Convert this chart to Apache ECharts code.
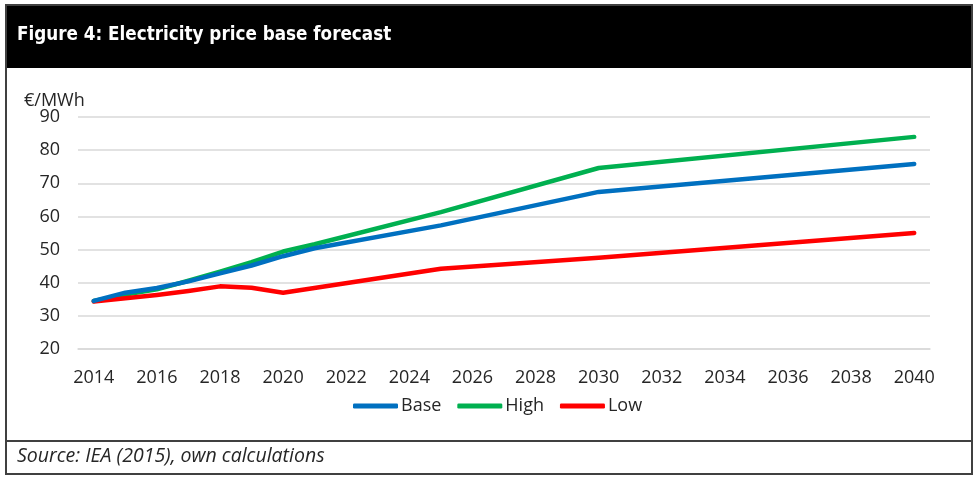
<!DOCTYPE html>
<html>
<head>
<meta charset="utf-8">
<script src="https://cdn.jsdelivr.net/npm/echarts@6/dist/echarts.min.js"></script>
<style>
html,body{margin:0;padding:0;background:#fff;}
#chart{width:979px;height:483px;}
</style>
</head>
<body>
<div id="chart"></div>
<script>
// Categories (years)
var years = ['2014','2015','2016','2017','2018','2019','2020','2021','2022','2023','2024','2025','2026','2027',
             '2028','2029','2030','2031','2032','2033','2034','2035','2036','2037','2038','2039','2040'];
// Series values (null = no data point; line connects neighbouring points)
var baseValues = [34.5, 37.0, 38.4, 40.4, 42.8, 45.2, 48.0, 50.4, null, null, null, 57.3,
                  null, null, null, null, 67.4, null, null, null, null, null, null, null, null, null, 75.8];
var highValues = [34.5, 36.4, 38.0, 40.6, 43.3, 46.2, 49.4, 51.6, null, null, null, 61.3,
                  null, null, null, null, 74.6, null, null, null, null, null, null, null, null, null, 84.0];
var lowValues  = [34.3, 35.3, 36.3, 37.5, 38.9, 38.5, 37.0, null, null, null, null, 44.2,
                  null, null, null, null, 47.5, null, null, null, null, null, null, null, null, null, 55.0];
var seriesNames = ['Base', 'High', 'Low'];
var seriesColors = ['#0070C0', '#00B050', '#FF0000'];
var yTicks = {min: 20, max: 90, interval: 10};
var titleText = 'Figure 4: Electricity price base forecast';
var unitText = '€/MWh';
var sourceText = 'Source: IEA (2015), own calculations';

var chart = echarts.init(document.getElementById('chart'), null, {renderer: 'canvas'});
var font = '"Open Sans", "Liberation Sans", sans-serif';
var allValues = [baseValues, highValues, lowValues];

var option = {
  animation: false,
  backgroundColor: '#ffffff',
  graphic: [
    {type: 'rect', shape: {x: 5, y: 5, width: 968, height: 63}, style: {fill: '#000000'}, z: 1},
    {type: 'rect', shape: {x: 6, y: 5, width: 966, height: 469}, style: {fill: 'none', stroke: '#404040', lineWidth: 2}, z: 2},
    {type: 'line', shape: {x1: 6, y1: 441, x2: 972, y2: 441}, style: {stroke: '#404040', lineWidth: 2}, z: 2},
    {type: 'text', left: 17, top: 26, z: 3,
     style: {text: titleText, fill: '#ffffff', font: 'bold 18.7px "DejaVu Sans Condensed", sans-serif'}},
    {type: 'text', left: 24, top: 92, z: 3,
     style: {text: unitText, fill: '#262626', font: '18px ' + font}},
    {type: 'text', left: 17, top: 446, z: 3,
     style: {text: sourceText, fill: '#262626', font: 'italic 19.5px ' + font}}
  ],
  grid: {left: 78, right: 49, top: 117, bottom: 134, containLabel: false},
  legend: {
    data: seriesNames,
    top: 392,
    left: 348,
    itemWidth: 45,
    itemHeight: 5,
    itemGap: 16,
    icon: 'roundRect',
    textStyle: {color: '#262626', fontSize: 18, fontFamily: font, padding: [0, 0, 0, -2]}
  },
  xAxis: {
    type: 'category',
    data: years,
    boundaryGap: true,
    axisLine: {show: true, lineStyle: {color: '#d9d9d9', width: 1.5}},
    axisTick: {show: false},
    axisLabel: {interval: 1, color: '#262626', fontSize: 18, fontFamily: font, margin: 20}
  },
  yAxis: {
    type: 'value',
    min: yTicks.min, max: yTicks.max, interval: yTicks.interval,
    axisLine: {show: false},
    axisTick: {show: false},
    axisLabel: {color: '#262626', fontSize: 18, fontFamily: font, margin: 18},
    splitLine: {lineStyle: {color: '#d9d9d9', width: 1.5}}
  },
  series: seriesNames.map(function (name, i) {
    return {
      name: name,
      type: 'line',
      data: allValues[i],
      connectNulls: true,
      showSymbol: false,
      symbol: 'none',
      smooth: false,
      lineStyle: {color: seriesColors[i], width: 4.5, cap: 'round', join: 'round'},
      itemStyle: {color: seriesColors[i]},
      z: 3 + (i === 0 ? 1 : 0)
    };
  })
};
chart.setOption(option);
</script>
</body>
</html>
